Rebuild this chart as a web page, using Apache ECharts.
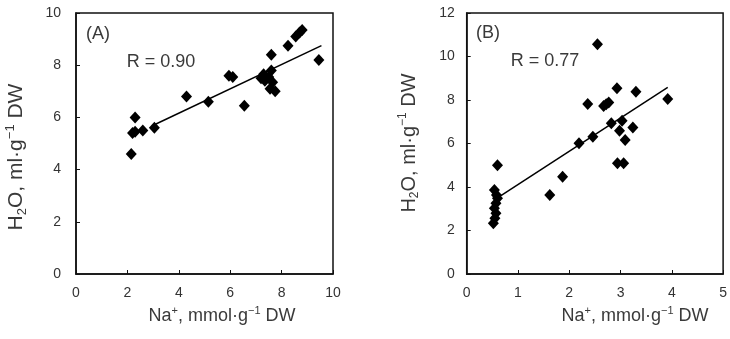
<!DOCTYPE html>
<html><head><meta charset="utf-8">
<script src="https://cdn.jsdelivr.net/npm/echarts@6/dist/echarts.min.js"></script>
<style>html,body{margin:0;padding:0;background:#fff}#c{width:730px;height:339px}</style>
</head><body><div id="c"></div>
<script>
// Panel A: Na+ (mmol/g DW) vs H2O (ml/g DW)
const pointsA = [
  [2.15,4.6],[2.2,5.4],[2.3,6.0],[2.3,5.45],[2.6,5.5],[3.05,5.6],[4.3,6.8],[5.15,6.6],
  [5.95,7.6],[6.1,7.55],[6.55,6.45],[7.2,7.5],[7.3,7.65],[7.35,7.4],[7.5,7.55],[7.55,7.1],
  [7.6,7.8],[7.6,8.4],[7.65,7.35],[7.75,7.0],[8.25,8.75],[8.55,9.1],[8.7,9.25],[8.8,9.35],[9.45,8.2]
];
const trendA = [[3.05,5.72],[9.55,8.75]];
const xAxisA = [0,10,2];   // min, max, step
const yAxisA = [0,10,2];
const labelA = ['(A)','R = 0.90'];

// Panel B
const pointsB = [
  [0.52,2.33],[0.55,2.56],[0.57,2.79],[0.54,3.02],[0.57,3.25],[0.60,3.48],[0.58,3.63],[0.54,3.86],[0.60,5.0],
  [1.62,3.63],[1.87,4.47],[2.19,6.01],[2.36,7.82],[2.46,6.31],[2.55,10.56],[2.67,7.72],[2.72,7.8],[2.77,7.88],
  [2.82,6.93],[2.93,8.54],[2.94,5.09],[2.98,6.59],[3.03,7.05],[3.06,5.09],[3.09,6.16],[3.24,6.74],[3.30,8.38],[3.92,8.05]
];
const trendB = [[0.63,3.55],[3.92,8.58]];
const xAxisB = [0,5,1];
const yAxisB = [0,12,2];
const labelB = ['(B)','R = 0.77'];

const FONT = '"Liberation Sans", Arial, sans-serif';
const TXT = '#333';

function xAx(idx, r){
  return {gridIndex: idx, type:'value', min:r[0], max:r[1], interval:r[2],
    axisLine:{show:true, lineStyle:{color:'#111', width:1.5}},
    axisTick:{show:true, inside:true, length:4, lineStyle:{color:'#111'}},
    axisLabel:{color:TXT, fontSize:14, fontFamily:FONT, margin:12},
    splitLine:{show:false}};
}
function yAx(idx, r, m){
  return {gridIndex: idx, type:'value', min:r[0], max:r[1], interval:r[2],
    axisLine:{show:true, lineStyle:{color:'#111', width:1.5}},
    axisTick:{show:true, inside:true, length:4, lineStyle:{color:'#111'}},
    axisLabel:{color:TXT, fontSize:14, fontFamily:FONT, margin:m},
    splitLine:{show:false}};
}
const richT = (fs) => ({
  a:{fontSize:fs, fontFamily:FONT, color:'#3a3a3a', lineHeight:fs+4, verticalAlign:'middle'},
  sup:{fontSize:Math.round(fs*0.6), fontFamily:FONT, color:'#3a3a3a', lineHeight:Math.round(fs*0.6)+1, verticalAlign:'top'},
  sub:{fontSize:Math.round(fs*0.6), fontFamily:FONT, color:'#3a3a3a', lineHeight:Math.round(fs*0.6)+1, verticalAlign:'bottom'}
});
const yTitle = '{a|H}{sub|2}{a|O, ml·g}{sup|−1}{a| DW}';
const xTitle = '{a|Na}{sup|+}{a|, mmol·g}{sup|−1}{a| DW}';

function txt(x, y, text, fs, rot, rich){
  const o = {type:'text', x:x, y:y, rotation:rot||0, z:100,
    style:{text:text, fontSize:fs, fontFamily:FONT, fill:'#3a3a3a', align:'center', verticalAlign:'middle'}};
  if (rich) o.style.rich = rich;
  return o;
}

const chart = echarts.init(document.getElementById('c'), null, {renderer:'canvas'});
chart.setOption({
  animation:false,
  backgroundColor:'#fff',
  grid:[
    {left:76, top:13, width:257, height:261, show:true, borderColor:'#111', borderWidth:1.5, containLabel:false},
    {left:466.7, top:13, width:262, height:261, show:true, borderColor:'#111', borderWidth:1.5, containLabel:false}
  ],
  xAxis:[xAx(0,xAxisA), xAx(1,xAxisB)],
  yAxis:[yAx(0,yAxisA,15), yAx(1,yAxisB,12)],
  series:[
    {type:'scatter', xAxisIndex:0, yAxisIndex:0, data:pointsA, symbol:'diamond', symbolSize:[11,12], itemStyle:{color:'#000', opacity:1}},
    {type:'line', xAxisIndex:0, yAxisIndex:0, data:trendA, symbol:'none', lineStyle:{color:'#000', width:1.5}},
    {type:'scatter', xAxisIndex:1, yAxisIndex:1, data:pointsB, symbol:'diamond', symbolSize:[11,12], itemStyle:{color:'#000', opacity:1}},
    {type:'line', xAxisIndex:1, yAxisIndex:1, data:trendB, symbol:'none', lineStyle:{color:'#000', width:1.5}}
  ],
  graphic:[
    txt(98, 34, labelA[0], 18),
    txt(161, 62, labelA[1], 18),
    txt(488, 33, labelB[0], 18),
    txt(545, 61, labelB[1], 18),
    txt(222, 316, xTitle, 18, 0, richT(18)),
    txt(635, 316, xTitle, 18, 0, richT(18)),
    txt(16, 157, yTitle, 21, Math.PI/2, richT(21)),
    txt(409, 143, yTitle, 20, Math.PI/2, richT(20))
  ]
});
</script></body></html>
